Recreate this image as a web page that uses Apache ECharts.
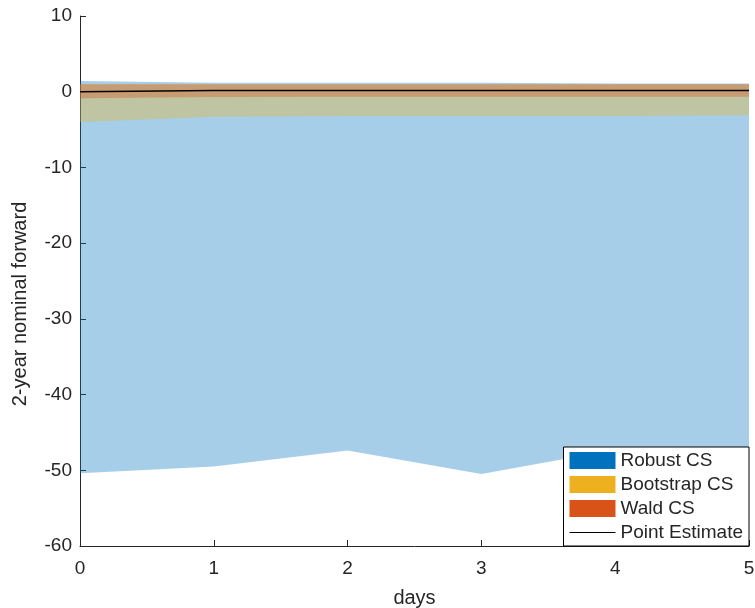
<!DOCTYPE html>
<html>
<head>
<meta charset="utf-8">
<script src="https://cdn.jsdelivr.net/npm/echarts@6/dist/echarts.min.js"></script>
<style>
  html, body { margin: 0; padding: 0; background: #fff; }
  #chart { width: 755px; height: 608px; }
</style>
</head>
<body>
<div id="chart"></div>
<script>
// days on the x axis
var days = ['0', '1', '2', '3', '4', '5'];

// confidence sets
var robustLower = [-50.4, -49.5, -47.4, -50.5, -47.3, -48.5];
var robustUpper = [1.4, 1.2, 1.2, 1.2, 1.1, 1.1];
var bootLower = [-4.0, -3.3, -3.2, -3.2, -3.2, -3.1];
var bootUpper = [1.0, 1.0, 1.0, 1.0, 1.0, 1.0];
var waldLower = [-0.85, -0.7, -0.65, -0.65, -0.65, -0.65];
var waldUpper = [1.0, 1.0, 1.0, 1.0, 1.0, 1.0];
var pointEst = [0.0, 0.15, 0.15, 0.15, 0.15, 0.15];

var yTicks = { min: -60, max: 10, step: 10 };

function diff(hi, lo){
  return hi.map(function(v, i){ return +(v - lo[i]).toFixed(3); });
}

// one band = invisible base series + stacked width series with area fill
function band(name, lo, hi, color){
  return [
    {
      name: name + '_base',
      type: 'line',
      stack: name,
      stackStrategy: 'all',
      data: lo,
      symbol: 'none',
      silent: true,
      lineStyle: { opacity: 0 }
    },
    {
      name: name,
      type: 'line',
      stack: name,
      stackStrategy: 'all',
      data: diff(hi, lo),
      symbol: 'none',
      silent: true,
      itemStyle: { color: color },
      lineStyle: { width: 0, opacity: 0 },
      areaStyle: { color: color, opacity: 0.35 }
    }
  ];
}

var myChart = echarts.init(document.getElementById('chart'));
var txt = '#262626';
var font = '"Liberation Sans", Arial, sans-serif';

var option = {
  animation: false,
  backgroundColor: '#fff',
  grid: { left: 80, right: 6, top: 16, bottom: 62, containLabel: false, outerBoundsMode: 'none' },
  legend: {
    orient: 'vertical',
    right: 6,
    bottom: 62,
    backgroundColor: '#fff',
    borderColor: '#000',
    borderWidth: 1,
    padding: [4, 6, 4, 6],
    itemGap: 5,
    itemWidth: 46,
    itemHeight: 17,
    textStyle: { fontSize: 19, color: txt, fontFamily: font },
    data: [
      { name: 'Robust CS', icon: 'rect', itemStyle: { color: '#0072BD', opacity: 1 } },
      { name: 'Bootstrap CS', icon: 'rect', itemStyle: { color: '#EDB120', opacity: 1 } },
      { name: 'Wald CS', icon: 'rect', itemStyle: { color: '#D95319', opacity: 1 } },
      { name: 'Point Estimate', icon: 'path://M0,8L46,8L46,9L0,9Z', itemStyle: { color: '#000', opacity: 1 } }
    ]
  },
  xAxis: {
    type: 'category',
    data: days,
    boundaryGap: false,
    name: 'days',
    nameLocation: 'middle',
    nameGap: 42,
    nameTextStyle: { fontSize: 20, color: txt, fontFamily: font },
    axisLine: { onZero: false, lineStyle: { color: txt, width: 1 } },
    axisTick: { inside: true, length: 6, lineStyle: { color: txt } },
    axisLabel: { fontSize: 19, color: txt, fontFamily: font, margin: 13 },
    splitLine: { show: false }
  },
  yAxis: {
    type: 'value',
    min: yTicks.min,
    max: yTicks.max,
    interval: yTicks.step,
    name: '2-year nominal forward',
    nameLocation: 'middle',
    nameGap: 50,
    nameTextStyle: { fontSize: 20, color: txt, fontFamily: font, padding: [0, 46, 0, 0] },
    axisLine: { show: true, onZero: false, lineStyle: { color: txt, width: 1 } },
    axisTick: { show: true, inside: true, length: 6, lineStyle: { color: txt } },
    axisLabel: { fontSize: 19, color: txt, fontFamily: font, margin: 8 },
    splitLine: { show: false }
  },
  series: [].concat(
    band('Robust CS', robustLower, robustUpper, '#0072BD'),
    band('Bootstrap CS', bootLower, bootUpper, '#EDB120'),
    band('Wald CS', waldLower, waldUpper, '#D95319'),
    [{
      name: 'Point Estimate',
      type: 'line',
      data: pointEst,
      symbol: 'none',
      silent: true,
      itemStyle: { color: '#000' },
      lineStyle: { color: '#000', width: 1.5 }
    }]
  )
};
myChart.setOption(option);
</script>
</body>
</html>
